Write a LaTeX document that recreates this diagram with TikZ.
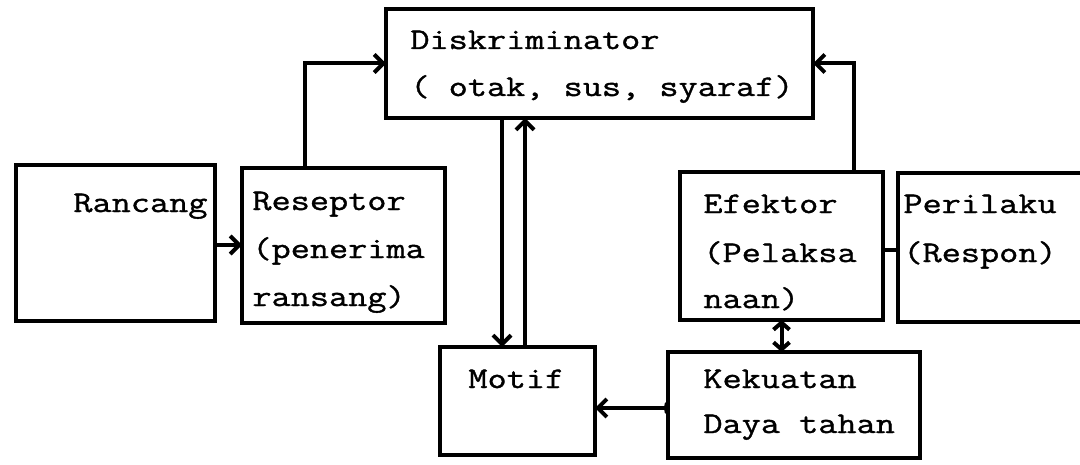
\documentclass[tikz,border=0pt]{standalone}
\usepackage{fontspec}
\setmonofont{Latin Modern Mono}[FakeStretch=1.24, FakeBold=1.2]
\usetikzlibrary{arrows.meta,fit}

\tikzset{
  box/.style={draw, line width=2pt, inner sep=0pt, outer sep=0pt, rectangle},
  txt/.style={anchor=base west, inner sep=0pt, font=\ttfamily\fontsize{15}{20}\selectfont},
  conn/.style={line width=2pt},
  arr/.style={conn, -{Straight Barb[length=4.5pt, width=9pt]}},
  dbl/.style={conn, {Straight Barb[length=3.5pt, width=8pt]}-{Straight Barb[length=3.5pt, width=8pt]}},
}

\begin{document}
\begin{tikzpicture}[x=0.5pt, y=-0.5pt]
  \useasboundingbox (0,0) rectangle (1080,465);
  \clip (0,0) rectangle (1080,465);

  % boxes
  \node[box, fit={(16,165) (215,321)}]  (rancang) {};
  \node[box, fit={(242,168) (445,323)}] (resep) {};
  \node[box, fit={(386,9) (813,118)}]   (disk) {};
  \node[box, fit={(680,172) (883,320)}] (efek) {};
  \node[box, fit={(898,173) (1100,322)}] (peri) {};
  \node[box, fit={(440,347) (595,455)}] (motif) {};
  \node[box, fit={(668,352) (920,458)}] (kek) {};

  % labels
  \node[txt] (t-ran)  at (73,212)  {Rancang};
  \node[txt] (t-res1) at (252,210) {Reseptor};
  \node[txt] (t-res2) at (252,258) {(penerima};
  \node[txt] (t-res3) at (252,306) {ransang)};
  \node[txt] (t-dis1) at (410,49)  {Diskriminator};
  \node[txt] (t-dis2) at (410,96)  {( otak, sus, syaraf)};
  \node[txt] (t-efe1) at (703,213) {Efektor};
  \node[txt] (t-efe2) at (703,262) {(Pelaksa};
  \node[txt] (t-efe3) at (703,308) {naan)};
  \node[txt] (t-per1) at (903,213) {Perilaku};
  \node[txt] (t-per2) at (903,262) {(Respon)};
  \node[txt] (t-mot)  at (468,388) {Motif};
  \node[txt] (t-kek1) at (703,388) {Kekuatan};
  \node[txt] (t-kek2) at (703,433) {Daya tahan};

  % connectors
  \draw[arr] ([yshift=-1pt]rancang.east) -- ([yshift=-1pt]rancang.east -| resep.west);
  \draw[arr] ([xshift=-19.25pt]resep.north) |- (disk.west);
  \draw[arr] ([xshift=36.25pt]efek.north) |- (disk.east);
  \draw[arr] ([xshift=-7.75pt]motif.north |- disk.south) -- ([xshift=-7.75pt]motif.north);
  \draw[arr] ([xshift=3.75pt]motif.north) -- ([xshift=3.75pt]motif.north |- disk.south);
  \draw[dbl] (efek.south) -- (efek.south |- kek.north);
  \draw[conn, {Arc Barb[reversed, length=2pt, width=7pt]}-{Straight Barb[length=4.5pt, width=9pt]}]
    ([yshift=-1.5pt]kek.west) -- ([yshift=-1.5pt]kek.west -| motif.east);
  \draw[conn] ([yshift=-2pt]efek.east) -- ([yshift=-2pt]efek.east -| peri.west);
\end{tikzpicture}
\end{document}
